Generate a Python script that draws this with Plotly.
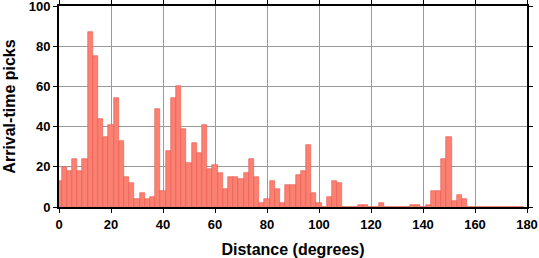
import plotly.graph_objects as go

bin_centers = list(range(0, 180, 2))
counts = [13, 20, 18, 24, 18, 24, 87, 75, 44, 35,
          41, 54, 33, 15, 12, 4, 7, 4, 5, 49,
          8, 28, 54, 60, 39, 22, 32, 27, 41, 19,
          21, 17, 9, 15, 15, 14, 17, 24, 15, 2,
          4, 13, 9, 2, 11, 11, 16, 18, 31, 7,
          2, 0, 5, 13, 12, 0, 0, 0, 1, 1,
          0, 0, 2, 0, 0, 0, 0, 0, 1, 1,
          0, 1, 8, 8, 24, 35, 3, 6, 4, 0,
          0, 0, 0, 0, 0, 0, 0, 0, 0, 0]
x_ticks = [0, 20, 40, 60, 80, 100, 120, 140, 160, 180]
y_ticks = [0, 20, 40, 60, 80, 100]

font_family = "Liberation Sans, Arial, Helvetica, sans-serif"

fig = go.Figure(go.Bar(
    x=bin_centers, y=counts, width=2,
    marker=dict(color="rgb(250,128,114)",
                line=dict(color="rgb(235,85,75)", width=0.6)),
))

axis_common = dict(
    showline=True, linewidth=2, linecolor="black", mirror="allticks",
    ticks="outside", ticklen=4, tickwidth=1, tickcolor="black",
    showgrid=True, gridcolor="#9a9a9a", gridwidth=0.8,
    zeroline=False, ticklabeloverflow="allow",
    tickfont=dict(family=font_family, size=13, color="black", weight="bold"),
)

fig.update_xaxes(range=[0, 180], tickvals=x_ticks, **axis_common,
                 title=dict(text="Distance (degrees)", standoff=13,
                            font=dict(family=font_family, size=16, color="black", weight="bold")))
fig.update_yaxes(range=[0, 100], tickvals=y_ticks, **axis_common,
                 title=dict(text="Arrival-time picks", standoff=9,
                            font=dict(family=font_family, size=16, color="black", weight="bold")))

fig.update_layout(
    width=539, height=258,
    margin=dict(l=59, r=12, t=6, b=51, autoexpand=False),
    plot_bgcolor="white", paper_bgcolor="white",
    bargap=0, showlegend=False,
)

fig.write_html("out.html")
